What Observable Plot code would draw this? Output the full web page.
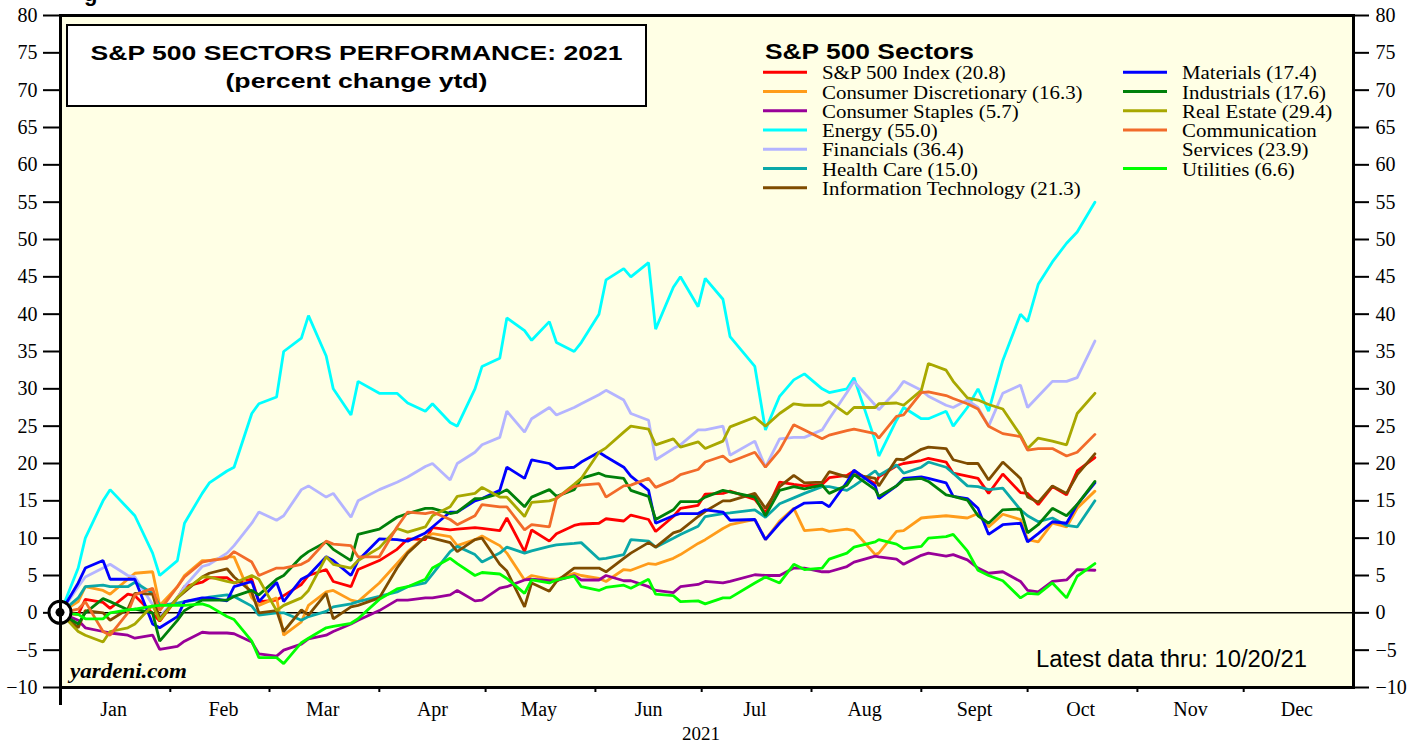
<!DOCTYPE html>
<html>
<head>
<meta charset="utf-8">
<script src="https://cdn.jsdelivr.net/npm/d3@7"></script>
<script src="https://cdn.jsdelivr.net/npm/@observablehq/plot@0.6"></script>
<style>
  body { margin: 0; background: #ffffff; }
  #chart svg { display: block; }
</style>
</head>
<body>
<div id="chart"></div>
<script>
const dates = [
  "2021-01-01","2021-01-06","2021-01-08","2021-01-13","2021-01-15","2021-01-20","2021-01-22","2021-01-27","2021-01-29","2021-02-03",
  "2021-02-05","2021-02-10","2021-02-12","2021-02-17","2021-02-19","2021-02-24","2021-02-26","2021-03-03","2021-03-05","2021-03-10",
  "2021-03-12","2021-03-17","2021-03-19","2021-03-24","2021-03-26","2021-04-01","2021-04-06","2021-04-09","2021-04-14","2021-04-16",
  "2021-04-21","2021-04-23","2021-04-28","2021-04-30","2021-05-05","2021-05-07","2021-05-12","2021-05-14","2021-05-19","2021-05-21",
  "2021-05-26","2021-05-28","2021-06-02","2021-06-04","2021-06-09","2021-06-11","2021-06-16","2021-06-18","2021-06-23","2021-06-25",
  "2021-06-30","2021-07-02","2021-07-07","2021-07-09","2021-07-16","2021-07-19","2021-07-23","2021-07-27","2021-07-30","2021-08-04",
  "2021-08-06","2021-08-11","2021-08-13","2021-08-19","2021-08-20","2021-08-25","2021-08-27","2021-09-01","2021-09-03","2021-09-08",
  "2021-09-10","2021-09-14","2021-09-17","2021-09-20","2021-09-24","2021-09-29","2021-10-01","2021-10-04","2021-10-08","2021-10-12",
  "2021-10-15","2021-10-20"];

const sp500 = [0, -0.2, 1.8, 1.4, 0.6, 2.5, 2.3, -0.1, -1.1, 2.0,
  3.5, 4.1, 4.7, 4.7, 4.0, 4.5, 1.5, 1.7, 2.3, 3.8,
  5.0, 5.8, 4.2, 3.5, 5.8, 7.0, 8.5, 9.9, 9.8, 11.4,
  11.1, 11.2, 11.4, 11.3, 11.0, 12.7, 8.2, 11.1, 9.6, 10.6,
  11.7, 11.9, 12.0, 12.6, 12.3, 13.1, 12.5, 10.9, 12.9, 14.0,
  14.4, 15.9, 16.0, 16.3, 15.2, 13.4, 17.5, 17.2, 17.0, 17.2,
  18.1, 18.4, 19.0, 17.3, 18.2, 19.7, 20.0, 20.4, 20.7, 20.2,
  18.7, 18.3, 18.0, 16.0, 18.6, 16.1, 16.0, 14.5, 16.9, 15.8,
  19.0, 20.8];
const consDisc = [0, 1.5, 3.5, 3.0, 2.5, 4.5, 5.3, 5.5, 1.0, 3.5,
  5.0, 7.0, 7.0, 7.5, 7.5, 2.0, 1.0, 2.0, -3.0, -1.2,
  1.0, 2.8, 3.0, 1.7, 1.5, 4.0, 6.6, 8.2, 10.2, 10.6,
  10.2, 9.0, 9.8, 10.3, 9.0, 8.0, 4.4, 5.0, 4.5, 4.5,
  5.3, 5.0, 4.6, 4.2, 5.8, 5.7, 6.6, 6.5, 7.3, 7.8,
  9.3, 9.8, 11.3, 11.8, 12.5, 9.8, 12.3, 14.0, 11.0, 11.2,
  10.9, 11.2, 11.0, 7.8, 8.0, 10.9, 11.0, 12.7, 12.8, 13.0,
  12.9, 12.7, 13.3, 11.5, 13.2, 12.5, 9.8, 9.5, 12.0, 11.5,
  14.0, 16.3];
const consStaples = [0, -1.0, -2.0, -2.5, -2.7, -3.0, -3.4, -3.0, -4.9, -4.5,
  -3.8, -2.6, -2.7, -2.7, -2.8, -3.9, -5.5, -5.8, -5.0, -4.2,
  -3.5, -3.0, -2.5, -1.5, -1.0, 0.3, 1.7, 1.7, 2.0, 2.0,
  2.4, 3.0, 1.6, 1.7, 3.3, 3.5, 4.4, 4.5, 4.3, 4.3,
  5.0, 4.4, 4.4, 5.0, 4.3, 4.3, 3.5, 3.0, 2.7, 3.5,
  3.8, 4.2, 4.0, 4.2, 5.1, 5.0, 5.0, 6.0, 6.0, 5.5,
  5.5, 6.2, 6.8, 7.6, 7.5, 7.2, 6.5, 7.7, 8.0, 7.6,
  7.8, 7.1, 6.0, 5.3, 5.5, 4.2, 3.0, 2.8, 4.2, 4.4,
  5.8, 5.7];
const energy = [0, 6, 10, 15, 16.5, 14, 13, 8, 5, 7,
  12, 16, 17.4, 19, 19.5, 26.7, 28, 28.9, 35, 36.8,
  39.8, 34.4, 30, 26.5, 31, 29.4, 29.4, 28.1, 27, 28,
  25.5, 25, 30, 33, 34.1, 39.5, 37.8, 36.5, 39, 36.2,
  35, 36.2, 40, 44.6, 46.1, 45, 46.9, 38, 43.6, 45,
  41, 44.8, 42, 37, 33, 24.5, 29, 31.2, 32, 30,
  29.5, 30, 31.5, 23, 21, 25.8, 27.5, 26, 26, 27,
  25, 27.5, 30, 27, 33.8, 40, 39, 44, 47, 49.5,
  51, 55.0];
const financials = [0, 3.5, 4.8, 6.0, 6.5, 5.0, 4.8, 1.1, -0.5, 2.0,
  3.5, 6.2, 6.5, 8, 9, 12, 13.5, 12.4, 13, 16.5,
  17, 15.5, 16, 12.8, 15, 16.5, 17.5, 18.2, 19.6, 20,
  17.8, 20, 21.5, 22.5, 23.5, 27, 24.2, 26, 27.5, 26.5,
  27.5, 28, 29.2, 29.8, 28.5, 26.7, 25.8, 20.5, 22, 22.5,
  24.5, 24.5, 25, 21.1, 23, 19.5, 23.3, 23.5, 23.5, 24.5,
  26, 29.5, 31, 27.8, 27.2, 29.7, 31, 29.8, 29, 27.8,
  27.5, 28.5, 27.5, 25, 29.4, 30.5, 27.5, 29, 31, 31,
  31.5, 36.4];
const healthCare = [0, 2.0, 3.5, 3.7, 3.5, 3.5, 4.1, 2.6, 1.0, 1.3,
  1.5, 1.8, 2.1, 2.4, 2.2, 0.9, -0.3, 0, 0, -1.0,
  -0.5, 0.2, 0.8, 1.2, 1.5, 2.2, 2.8, 3.5, 4.0, 5.2,
  8.2, 8.9, 7.8, 6.8, 8.0, 8.8, 8.0, 8.3, 8.9, 9.1,
  9.3, 9.4, 7.2, 7.3, 7.8, 9.8, 9.6, 8.8, 10.0, 10.5,
  11.6, 12.9, 13.3, 13.4, 13.8, 12.8, 14.6, 15.4, 16.0, 16.9,
  16.9, 16.4, 17.0, 19, 18.4, 19.8, 18.7, 19.5, 20.2, 19.5,
  18.7, 17, 16.9, 16.5, 16.7, 13.8, 13.0, 12.2, 12.7, 11.7,
  11.5, 15.0];
const infoTech = [0, -2.0, 0.3, 0, -1.0, 0.5, 2.6, 2.5, -0.8, 2.0,
  2.8, 4.8, 5.3, 5.9, 4.8, 2.8, 0, 0.3, -2.5, 0.4,
  -0.3, 2.6, -0.8, 0.8, 1.0, 2.0, 6.0, 8.0, 10.2, 10.0,
  9.4, 8.2, 9.8, 10.0, 6.5, 5.6, 0.8, 4.0, 2.9, 4.2,
  6.0, 6.0, 6.0, 5.5, 7.3, 8.0, 9.4, 8.8, 10.7, 11.0,
  12.9, 13.6, 15.0, 15.0, 16.0, 14.0, 16.9, 18.4, 17.4, 17.5,
  18.9, 18.2, 18.5, 18, 17.0, 20.6, 20.5, 21.9, 22.2, 22,
  20.5, 20, 20.0, 17.8, 20.2, 18, 15.5, 14.8, 17.0, 16,
  18.5, 21.3];
const materials = [0, 4, 6.0, 7.0, 4.5, 4.5, 4.5, -1.5, -2.0, -0.5,
  1.5, 2.0, 2.0, 1.6, 3.5, 4.2, 1.5, 4.1, 1.5, 4.5,
  5.0, 7.5, 7.0, 5.0, 7.0, 9.9, 9.8, 9.6, 10.7, 11.5,
  13.5, 13.5, 15, 15.3, 16.4, 19.5, 18.0, 20.5, 20, 19.3,
  19.5, 20.2, 21.5, 20.9, 19.5, 18.3, 16.4, 12.0, 13, 13.3,
  13.3, 13.8, 13.5, 12.4, 12.5, 9.8, 12.0, 13.9, 14.7, 14.8,
  14.2, 17.5, 19.1, 17, 15.3, 17, 18.0, 18.2, 18.0, 17.4,
  15.6, 15.3, 14, 10.5, 11.8, 12, 9.5, 10.6, 12.2, 12,
  14.5, 17.4];
const industrials = [0, -1.5, 0, 1.9, 1.5, 0.4, 0.5, 0, -3.8, -1.0,
  0.3, 1.7, 1.7, 1.7, 2.2, 3.0, 2.4, 4.5, 5.0, 7.5,
  8.2, 9.5, 8.5, 7.0, 10.5, 11.2, 12.8, 13.3, 14.0, 14.0,
  13.3, 13.5, 15.3, 15.3, 16.0, 16.5, 14.2, 15.5, 16.5, 15.6,
  16.5, 18.0, 18.7, 18.3, 18.0, 16.4, 15.6, 12.5, 13.8, 14.9,
  14.9, 15.5, 16.4, 16.2, 15.5, 13.0, 16.4, 16.9, 16.6, 17.1,
  16.0, 17.1, 18.5, 16.5, 15.6, 17, 17.8, 18, 17.6, 15.8,
  15.6, 15.1, 13.0, 12, 13.8, 13.9, 10.7, 11.8, 14.0, 13,
  14.5, 17.6];
const realEstate = [0, -2.5, -3.0, -3.9, -2.5, -2.0, -1.5, 1.0, -1.0, 2.0,
  3.0, 4.8, 4.8, 4.2, 4.0, 5.0, 4.5, 0.3, 1.0, 2.0,
  3.0, 7.5, 6.5, 6.0, 7.0, 8.7, 11.3, 10.8, 11.5, 13.0,
  14.2, 15.6, 16.0, 16.8, 15.5, 15.5, 12.9, 14.8, 15.0, 15.3,
  17.2, 18.0, 21.5, 22.1, 24.2, 25.0, 24.6, 22.5, 23.3, 22.2,
  22.9, 22.0, 23.0, 24.9, 26.2, 25.0, 26.7, 28.0, 27.8, 27.8,
  28.3, 26.6, 27.5, 27.5, 28.0, 28.1, 27.8, 29.8, 33.4, 32.5,
  31.0, 28.8, 28.5, 27.9, 27.3, 23.8, 22.0, 23.4, 23.0, 22.5,
  26.7, 29.4];
const commServ = [0, 0.5, 1.5, -2.5, -3.0, 0, 2.4, 3.3, 0.3, 3.5,
  4.8, 6.8, 7.0, 7.3, 8.2, 6.8, 5.0, 6.0, 6.0, 6.5,
  7.0, 9.6, 9.2, 9.0, 7.5, 7.5, 11.5, 13.5, 13.3, 13.5,
  12.5, 11.8, 13.0, 14.5, 14.2, 14.2, 11.1, 11.8, 11.5, 15.4,
  16.9, 17.1, 17.3, 15.5, 17.0, 17.1, 18.0, 16.8, 17.8, 18.5,
  19.2, 20.2, 21.0, 20.2, 21.5, 19.5, 21.8, 25.2, 24.5, 23.3,
  23.8, 24.4, 24.6, 24.0, 23.4, 26.3, 26.5, 29.5, 29.6, 29.1,
  28.7, 28.0, 27.3, 25.0, 24.0, 23.6, 21.8, 22.0, 22.0, 21.0,
  21.5, 23.9];
const utilities = [0, -0.2, -0.8, -0.8, 0, 0.4, 0.5, 0.9, 1.0, 1.0,
  1.0, 1.2, 0.9, -0.5, -0.9, -3.8, -6.0, -6.0, -6.8, -4.0,
  -3.4, -2.0, -1.8, -1.4, -0.8, 1.8, 3.2, 3.5, 4.5, 6.0,
  7.3, 6.6, 5.0, 5.4, 5.2, 4.6, 2.6, 4.4, 4.0, 4.4,
  4.9, 3.5, 3.0, 3.4, 3.7, 3.3, 4.5, 2.5, 2.3, 1.5,
  1.6, 1.2, 2.0, 2.0, 4.0, 4.8, 4.0, 6.5, 5.8, 6.0,
  7.2, 8.0, 8.8, 9.5, 9.8, 9.2, 8.6, 8.9, 10.0, 10.2,
  10.5, 8.3, 5.7, 5.0, 4.3, 2.0, 2.6, 2.5, 4.0, 2.0,
  4.9, 6.6];

const seriesNames  = ["S&P 500 Index", "Consumer Discretionary", "Consumer Staples", "Energy", "Financials", "Health Care", "Information Technology", "Materials", "Industrials", "Real Estate", "Communication Services", "Utilities"];
const seriesValues = [sp500, consDisc, consStaples, energy, financials, healthCare, infoTech, materials, industrials, realEstate, commServ, utilities];
const seriesColors = ["#ff0000", "#ff9c1a", "#990099", "#00ffff", "#b4b4ff", "#0aa8a8", "#7f4c00", "#0000ff", "#00800a", "#a8a800", "#f26b2a", "#00ff00"];

const yTicks = [-10, -5, 0, 5, 10, 15, 20, 25, 30, 35, 40, 45, 50, 55, 60, 65, 70, 75, 80];
const monthLabels = ["Jan", "Feb", "Mar", "Apr", "May", "Jun", "Jul", "Aug", "Sept", "Oct", "Nov", "Dec"];
const titleLines = ["S&P 500 SECTORS PERFORMANCE: 2021", "(percent change ytd)"];
const legendTitle = "S&P 500 Sectors";
const sourceText = "yardeni.com";
const latestText = "Latest data thru: 10/20/21";
const yearLabel = "2021";

// ---- derived tables ----
const rows = seriesNames.flatMap((name, i) =>
  seriesValues[i].map((v, j) => ({date: new Date(dates[j]), value: v, series: name})));
const monthStarts = monthLabels.map((m, i) => new Date(Date.UTC(2021, i, 1)));
const monthMids = monthLabels.map((m, i) => new Date(Date.UTC(2021, i, 16)));
const legendLabels = seriesNames.map((n, i) => `${n} (${seriesValues[i][seriesValues[i].length - 1].toFixed(1)})`);

const SANS = "'Liberation Sans', Arial, Helvetica, sans-serif";
const SERIF = "'Liberation Serif', 'Times New Roman', Times, serif";

// title box (decoration)
function titleBox(index, scales, values, dims) {
  const g = d3.create("svg:g");
  const x0 = dims.marginLeft + 7, y0 = dims.marginTop + 10, w = 579, h = 81;
  g.append("rect").attr("x", x0).attr("y", y0).attr("width", w).attr("height", h)
    .attr("fill", "#ffffff").attr("stroke", "#000").attr("stroke-width", 2);
  const cx = x0 + w / 2;
  g.append("text").attr("x", cx).attr("y", y0 + 35).attr("text-anchor", "middle")
    .attr("font-family", SANS).attr("font-weight", "bold").attr("font-size", 21).attr("fill", "#000")
    .attr("textLength", 532).attr("lengthAdjust", "spacingAndGlyphs").text(titleLines[0]);
  g.append("text").attr("x", cx).attr("y", y0 + 63).attr("text-anchor", "middle")
    .attr("font-family", SANS).attr("font-weight", "bold").attr("font-size", 21).attr("fill", "#000")
    .attr("textLength", 262).attr("lengthAdjust", "spacingAndGlyphs").text(titleLines[1]);
  // fragment of a text cut by the top edge of the picture
  g.append("text").attr("x", 84).attr("y", 1).attr("text-anchor", "start").attr("font-family", SANS)
    .attr("font-weight", "bold").attr("font-size", 22).attr("fill", "#000").text("g");
  return g.node();
}

// legend (decoration built from the series arrays)
function legend(index, scales, values, dims) {
  const g = d3.create("svg:g");
  g.append("text").attr("x", 765).attr("y", 58.5).attr("text-anchor", "start").attr("font-family", SANS)
    .attr("font-weight", "bold").attr("font-size", 22).attr("fill", "#000")
    .attr("textLength", 209).attr("lengthAdjust", "spacingAndGlyphs").text(legendTitle);
  const cols = [
    {lineX: 763, textX: 822, items: [0, 1, 2, 3, 4, 5, 6]},
    {lineX: 1123, textX: 1182, items: [7, 8, 9, 10, 11]}
  ];
  const rowY0 = 72.3, rowH = 19.25;
  cols.forEach(col => {
    let row = 0;
    col.items.forEach(i => {
      const y = rowY0 + row * rowH;
      g.append("line").attr("x1", col.lineX).attr("x2", col.lineX + 44)
        .attr("y1", y).attr("y2", y).attr("stroke", seriesColors[i]).attr("stroke-width", 3);
      const parts = legendLabels[i].startsWith("Communication ")
        ? ["Communication", legendLabels[i].slice("Communication ".length)]
        : [legendLabels[i]];
      parts.forEach((t, k) => {
        g.append("text")
          .attr("transform", `translate(${col.textX},${y + 7 + k * rowH}) scale(1.1,1)`)
          .attr("text-anchor", "start")
          .attr("font-family", SERIF).attr("font-size", 19).attr("fill", "#000").text(t);
      });
      row += parts.length;
    });
  });
  return g.node();
}

// origin marker
function origin(index, scales, values, dims) {
  const g = d3.create("svg:g");
  const cx = scales.x(new Date(dates[0])), cy = scales.y(0);
  g.append("circle").attr("cx", cx).attr("cy", cy).attr("r", 11)
    .attr("fill", "#fff").attr("stroke", "#000").attr("stroke-width", 3);
  g.append("circle").attr("cx", cx).attr("cy", cy).attr("r", 4.5).attr("fill", "#000");
  return g.node();
}

// bottom-corner notes (decoration)
function notes(index, scales, values, dims) {
  const g = d3.create("svg:g");
  const bottom = dims.height - dims.marginBottom;
  g.append("text").attr("x", dims.marginLeft + 10).attr("y", bottom - 9).attr("text-anchor", "start")
    .attr("font-family", SERIF).attr("font-weight", "bold").attr("font-style", "italic")
    .attr("font-size", 21).attr("fill", "#000")
    .attr("textLength", 117).attr("lengthAdjust", "spacingAndGlyphs").text(sourceText);
  g.append("text").attr("x", dims.width - dims.marginRight - 46).attr("y", bottom - 20).attr("text-anchor", "end")
    .attr("font-family", SANS).attr("font-size", 23).attr("fill", "#000")
    .attr("textLength", 271).attr("lengthAdjust", "spacingAndGlyphs").text(latestText);
  return g.node();
}

const chart = Plot.plot({
  width: 1419,
  height: 742,
  marginLeft: 60,
  marginRight: 66,
  marginTop: 15,
  marginBottom: 55,
  style: {fontFamily: SERIF, fontSize: "20px", background: "#ffffff", color: "#000", overflow: "hidden"},
  x: {type: "utc", domain: [new Date("2021-01-01"), new Date("2022-01-01")], axis: null},
  y: {domain: [-10, 80], axis: null},
  color: {domain: seriesNames, range: seriesColors},
  marks: [
    Plot.frame({fill: "#ffffe5", stroke: null}),
    Plot.ruleY([0], {stroke: "#000", strokeWidth: 1.5}),
    Plot.line(rows, {x: "date", y: "value", z: "series", stroke: "series", strokeWidth: 2.8, strokeLinejoin: "miter"}),
    Plot.axisY({anchor: "left", ticks: yTicks, tickSize: 17, tickPadding: 6, fontSize: 20, strokeWidth: 2, label: null}),
    Plot.axisY({anchor: "right", ticks: yTicks, tickSize: 15, tickPadding: 7, fontSize: 20, strokeWidth: 2, label: null}),
    Plot.axisX({ticks: monthStarts, tickSize: 5, strokeWidth: 2, tickFormat: () => "", label: null}),
    Plot.axisX({ticks: [monthStarts[0]], tickSize: 18, strokeWidth: 3, tickFormat: () => "", label: null}),
    Plot.axisX({ticks: monthMids, tickSize: 0, tickPadding: 14, fontSize: 20, tickFormat: d => monthLabels[d.getUTCMonth()], label: null}),
    Plot.text([yearLabel], {text: d => d, frameAnchor: "bottom", dx: -6, dy: 52, lineAnchor: "bottom", fontSize: 19, fontFamily: SERIF}),
    notes,
    titleBox,
    legend,
    origin,
    Plot.frame({stroke: "#000", strokeWidth: 3})
  ]
});
document.getElementById("chart").appendChild(chart);
</script>
</body>
</html>
